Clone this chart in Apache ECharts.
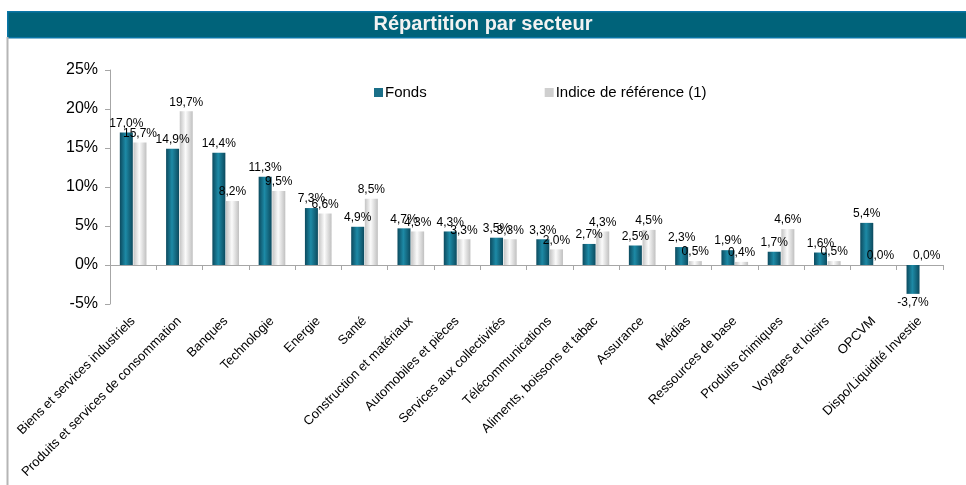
<!DOCTYPE html>
<html>
<head>
<meta charset="utf-8">
<script src="https://cdn.jsdelivr.net/npm/echarts@6/dist/echarts.min.js"></script>
<style>
  html, body { margin: 0; padding: 0; background: #fff; }
  #chart { width: 966px; height: 485px; }
</style>
</head>
<body>
<div id="chart"></div>
<script>
var secteurs = ['Biens et services industriels', 'Produits et services de consommation', 'Banques',
  'Technologie', 'Energie', 'Santé', 'Construction et matériaux', 'Automobiles et pièces',
  'Services aux collectivités', 'Télécommunications', 'Aliments, boissons et tabac', 'Assurance',
  'Médias', 'Ressources de base', 'Produits chimiques', 'Voyages et loisirs', 'OPCVM',
  'Dispo/Liquidité Investie'];
var fonds = [17.0, 14.9, 14.4, 11.3, 7.3, 4.9, 4.7, 4.3, 3.5, 3.3, 2.7, 2.5, 2.3, 1.9, 1.7, 1.6, 5.4, -3.7];
var indice = [15.7, 19.7, 8.2, 9.5, 6.6, 8.5, 4.3, 3.3, 3.3, 2.0, 4.3, 4.5, 0.5, 0.4, 4.6, 0.5, 0.0, 0.0];
var yTicks = [-5, 0, 5, 10, 15, 20, 25];

;(function(){
  var myChart = echarts.init(document.getElementById('chart'));

  function pct(v) {
    return v.toFixed(1).replace('.', ',') + '%';
  }
  // les valeurs négatives ont leur étiquette sous la barre
  function withLabels(arr) {
    return arr.map(function (v) {
      return v < 0 ? { value: v, label: { position: 'bottom' } } : v;
    });
  }

  var fondsColor = new echarts.graphic.LinearGradient(0, 0, 1, 0, [
    { offset: 0, color: '#0c4a5e' },
    { offset: 0.45, color: '#1d8aa6' },
    { offset: 1, color: '#0c4a5e' }
  ]);
  var indiceColor = new echarts.graphic.LinearGradient(0, 0, 1, 0, [
    { offset: 0, color: '#c4c4c4' },
    { offset: 0.45, color: '#fbfbfb' },
    { offset: 1, color: '#c0c0c0' }
  ]);

  var option = {
    textStyle: { fontFamily: 'Liberation Sans, Arial, sans-serif' },
    animation: false,
    graphic: [
      { type: 'rect', left: 7, top: 11, shape: { width: 959, height: 26 },
        style: { fill: '#00637a', stroke: '#0a76a6', lineWidth: 1.5 } },
      { type: 'text', left: 'center', top: 14,
        style: { text: 'Répartition par secteur', fill: '#f2f2f2',
          font: 'bold 20px "Liberation Sans", Arial, sans-serif' } },
      { type: 'line', shape: { x1: 7.5, y1: 37, x2: 7.5, y2: 485 },
        style: { stroke: '#b5b5b5', lineWidth: 2 } }
    ],
    legend: {
      top: 80,
      left: 369,
      itemGap: 118,
      itemWidth: 9,
      itemHeight: 9,
      icon: 'rect',
      textStyle: { fontSize: 15, color: '#000', padding: [0, 0, 0, -3] },
      data: [
        { name: 'Fonds', itemStyle: { color: '#1a6f88' } },
        { name: 'Indice de référence (1)', itemStyle: { color: '#cfcfcf' } }
      ]
    },
    grid: { left: 110, right: 23, top: 70, bottom: 181, outerBoundsMode: 'none', containLabel: false },
    xAxis: {
      type: 'category',
      data: secteurs,
      axisLine: { onZero: true, lineStyle: { color: '#a6a6a6' } },
      axisTick: { show: true, length: 5, lineStyle: { color: '#a6a6a6' } },
      axisLabel: { rotate: 45, interval: 0, fontSize: 13, color: '#000', margin: 15 }
    },
    yAxis: {
      type: 'value',
      min: yTicks[0],
      max: yTicks[yTicks.length - 1],
      interval: 5,
      splitLine: { show: false },
      axisLine: { show: true, lineStyle: { color: '#a6a6a6' } },
      axisTick: { show: true, length: 5, lineStyle: { color: '#a6a6a6' } },
      axisLabel: { formatter: '{value}%', fontSize: 16, color: '#000', margin: 12 }
    },
    series: [
      {
        name: 'Fonds',
        type: 'bar',
        barWidth: 13,
        barGap: '5%',
        data: withLabels(fonds),
        itemStyle: { color: fondsColor },
        label: {
          show: true, position: 'top', distance: 3, fontSize: 12, color: '#000',
          formatter: function (p) { return pct(p.value); }
        }
      },
      {
        name: 'Indice de référence (1)',
        type: 'bar',
        barWidth: 13,
        data: withLabels(indice),
        itemStyle: { color: indiceColor },
        label: {
          show: true, position: 'top', distance: 3, fontSize: 12, color: '#000',
          formatter: function (p) { return pct(p.value); }
        }
      }
    ]
  };

  myChart.setOption(option);
})();
</script>
</body>
</html>
